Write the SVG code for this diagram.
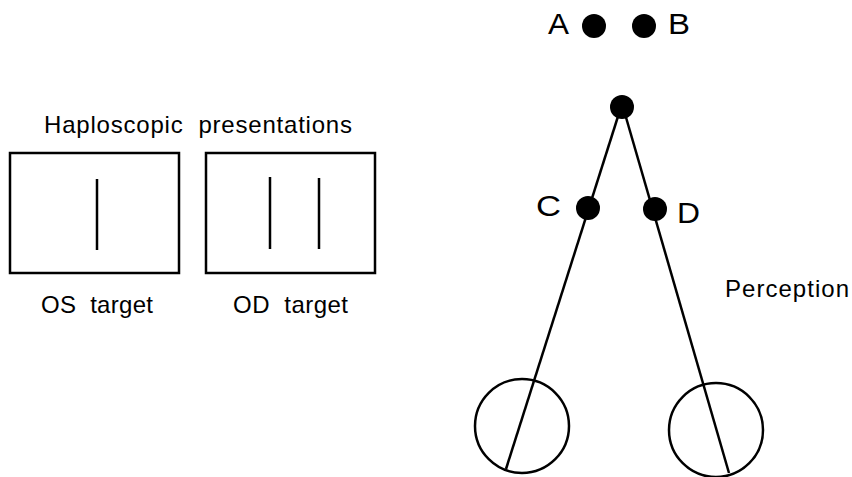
<svg xmlns="http://www.w3.org/2000/svg" width="852" height="477" viewBox="0 0 852 477">
<style>
text{font-family:"Liberation Sans",Arial,sans-serif;fill:#000;white-space:pre;}
.lbl{font-size:24px;}
.big{font-size:29px;}
.ln{stroke:#000;stroke-width:2.5;fill:none;}
.dot{fill:#000;}
</style>
<rect width="852" height="477" fill="#fff"/>
<g id="title"><text class="lbl" x="44" y="133" xml:space="preserve" textLength="308" lengthAdjust="spacing">Haploscopic  presentations</text></g>
<g id="os-target">
<rect class="ln" x="10" y="153" width="169" height="120"/>
<line class="ln" x1="97" y1="179" x2="97" y2="250"/>
<text class="lbl" x="41" y="313" xml:space="preserve" textLength="112" lengthAdjust="spacing">OS  target</text>
</g>
<g id="od-target">
<rect class="ln" x="206" y="153" width="169" height="120"/>
<line class="ln" x1="270" y1="177" x2="270" y2="249"/>
<line class="ln" x1="319" y1="178" x2="319" y2="249"/>
<text class="lbl" x="233" y="313" xml:space="preserve" textLength="115" lengthAdjust="spacing">OD  target</text>
</g>
<g id="connectors">
<line class="ln" x1="621" y1="107" x2="506" y2="469"/>
<line class="ln" x1="623" y1="107" x2="729" y2="473"/>
</g>
<g id="A"><circle class="dot" cx="594" cy="26" r="12"/><text class="big" x="548" y="34" textLength="21" lengthAdjust="spacingAndGlyphs">A</text></g>
<g id="B"><circle class="dot" cx="644" cy="26" r="12"/><text class="big" x="668" y="34" textLength="22" lengthAdjust="spacingAndGlyphs">B</text></g>
<g id="apex"><circle class="dot" cx="622" cy="107" r="12"/></g>
<g id="C"><circle class="dot" cx="588" cy="208" r="12"/><text class="big" x="536" y="216" textLength="25" lengthAdjust="spacingAndGlyphs">C</text></g>
<g id="D"><circle class="dot" cx="655" cy="209" r="12"/><text class="big" x="677" y="223" textLength="23" lengthAdjust="spacingAndGlyphs">D</text></g>
<g id="left-eye"><circle class="ln" cx="522" cy="426" r="47"/></g>
<g id="right-eye"><circle class="ln" cx="716" cy="430" r="47"/></g>
<g id="perception"><text class="lbl" x="725" y="297" textLength="124" lengthAdjust="spacing">Perception</text></g>
</svg>
